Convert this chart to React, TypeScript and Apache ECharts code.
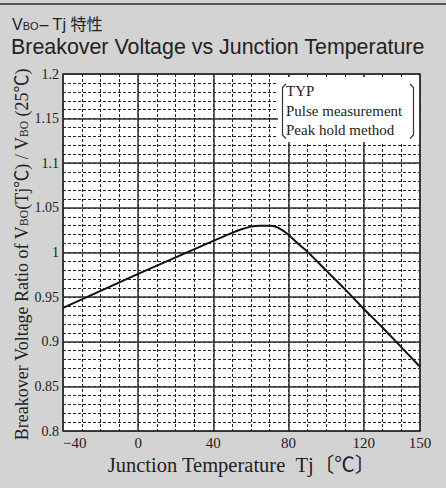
import React, { useEffect, useRef } from "react";
import * as echarts from "echarts";

// Junction temperature (°C) and breakover voltage ratio
const tempC = [-40, 0, 40, 50, 55, 60, 65, 70, 73, 76, 80, 85, 90, 100, 110, 120, 130, 140, 150];
const ratio = [0.938, 0.976, 1.013, 1.022, 1.026, 1.029, 1.030, 1.030, 1.029, 1.026, 1.020, 1.010, 1.001, 0.980, 0.959, 0.937, 0.916, 0.894, 0.872];

const xMin = -40;
const xMax = 150;
const xMajor = 40;
const xMinor = 10;
const yMin = 0.8;
const yMax = 1.2;
const yMajor = 0.05;
const yMinor = 0.01;

const legendLines = ["TYP", "Pulse measurement", "Peak hold method"];
const titleLine1 = "{a|V}{s|BO}{a|– Tj 特性}";
const titleLine2 = "Breakover Voltage vs Junction Temperature";
const xName = "Junction Temperature\u2002Tj〔℃〕";
const yName = "{a|Breakover Voltage Ratio of V}{s|BO}{a|(Tj℃) / V}{s|BO}{a| (25℃)}";

const SERIF = "'Liberation Serif', 'Times New Roman', 'Noto Sans CJK JP', serif";
const SANS = "'Liberation Sans', Arial, 'Noto Sans CJK JP', sans-serif";

export default function App() {
  const ref = useRef<HTMLDivElement>(null);
  useEffect(() => {
    document.body.style.margin = "0";
    const chart = echarts.init(ref.current!, null, { renderer: "svg" });
    const gridL = 63, gridT = 74, gridW = 357, gridH = 357;
    const fmtX = (v: number) => (v < 0 ? "\u2212" + Math.abs(v) : String(v));
    const option: any = {
      animation: false,
      backgroundColor: "#d3d3d3",
      grid: {
        left: gridL, top: gridT, width: gridW, height: gridH,
        show: true, backgroundColor: "#ffffff", borderColor: "#333", borderWidth: 1.5,
      },
      xAxis: [
        {
          type: "value", min: xMin, max: xMax, interval: xMinor, position: "bottom",
          axisLine: { show: false }, axisTick: { show: false }, axisLabel: { show: false },
          splitLine: { show: true, lineStyle: { color: "#222", width: 1, type: [3, 2] } },
        },
        {
          type: "value", min: xMin, max: xMax, interval: xMajor, position: "bottom",
          axisLine: { show: false }, axisTick: { show: false },
          axisLabel: {
            fontFamily: SERIF, fontSize: 15, color: "#222", margin: 4,
            formatter: fmtX, alignMinLabel: "left",
          },
          splitLine: { show: true, lineStyle: { color: "#333", width: 1.5 } },
        },
      ],
      yAxis: [
        {
          type: "value", min: yMin, max: yMax, interval: yMinor,
          axisLine: { show: false }, axisTick: { show: false }, axisLabel: { show: false },
          splitLine: { show: true, lineStyle: { color: "#222", width: 1, type: [3, 2] } },
        },
        {
          type: "value", min: yMin, max: yMax, interval: yMajor, position: "left",
          axisLine: { show: false }, axisTick: { show: false },
          axisLabel: { fontFamily: SERIF, fontSize: 14, color: "#222", margin: 4 },
          splitLine: { show: true, lineStyle: { color: "#333", width: 1.5 } },
        },
      ],
      series: [
        {
          type: "line",
          xAxisIndex: 1, yAxisIndex: 1,
          data: tempC.map((t, i) => [t, ratio[i]]),
          smooth: 0.3,
          showSymbol: false,
          lineStyle: { color: "#111", width: 2 },
          z: 5,
        },
      ],
      graphic: [
        { type: "rect", shape: { x: 0, y: 3, width: 446, height: 2 }, style: { fill: "#555" }, z: 100 },
        {
          type: "text", x: 12, y: 24, z: 100,
          style: {
            text: titleLine1, align: "left", verticalAlign: "middle", fill: "#222",
            rich: {
              a: { fontFamily: SANS, fontSize: 16, fill: "#222", verticalAlign: "bottom" },
              s: { fontFamily: SANS, fontSize: 11, fill: "#222", verticalAlign: "bottom", padding: [0, 1, 1, 0] },
            },
          },
        },
        {
          type: "text", x: 11, y: 47, z: 100,
          style: { text: titleLine2, fontFamily: SANS, fontSize: 21.4, fill: "#222", align: "left", verticalAlign: "middle" },
        },
        {
          type: "text", x: gridL + gridW / 2, y: 465, z: 100,
          style: { text: xName, fontFamily: SERIF, fontSize: 20.5, fill: "#222", align: "center", verticalAlign: "middle" },
        },
        {
          type: "text", x: 22, y: gridT + gridH / 2 + 2, rotation: Math.PI / 2, z: 100,
          style: {
            text: yName, align: "center", verticalAlign: "middle", fill: "#222",
            rich: {
              a: { fontFamily: SERIF, fontSize: 18, fill: "#222", verticalAlign: "bottom" },
              s: { fontFamily: SERIF, fontSize: 11.5, fill: "#222", verticalAlign: "bottom", padding: [0, 0, 1, 0] },
            },
          },
        },
        { type: "rect", shape: { x: 278, y: 77, width: 141, height: 65 }, style: { fill: "#ffffff" }, z: 100 },
        {
          type: "polyline", z: 101,
          shape: { points: [[286, 84], [282.5, 87.5], [282.5, 135], [286, 138.5]] },
          style: { stroke: "#333", lineWidth: 1.2, fill: null },
        },
        {
          type: "polyline", z: 101,
          shape: { points: [[410, 84], [413.5, 87.5], [413.5, 135], [410, 138.5]] },
          style: { stroke: "#333", lineWidth: 1.2, fill: null },
        },
        ...legendLines.map((t, i) => ({
          type: "text", x: 286, y: 91 + i * 19.7, z: 101,
          style: { text: t, fontFamily: SERIF, fontSize: 15, fill: "#222", align: "left", verticalAlign: "middle" },
        })),
      ],
    };
    chart.setOption(option);
    return () => chart.dispose();
  }, []);
  return <div ref={ref} style={{ width: 446, height: 488 }} />;
}
